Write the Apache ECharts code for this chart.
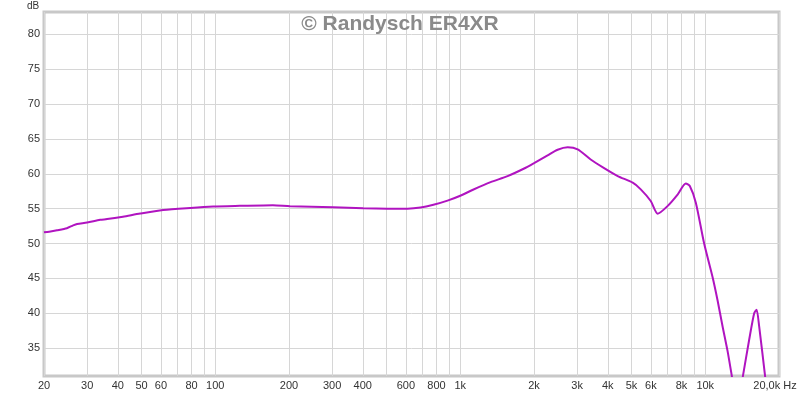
<!DOCTYPE html>
<html>
<head>
<meta charset="utf-8">
<script src="https://cdn.jsdelivr.net/npm/echarts@6/dist/echarts.min.js"></script>
<style>
html,body{margin:0;padding:0;background:#fff;}
#chart{width:800px;height:395px;}
</style>
</head>
<body>
<div id="chart"></div>
<script>
// Frequency response data (Hz, dB)
var frequencies = [20, 21, 22.6, 24.8, 26.3, 27.3, 30, 33.9, 36.2, 42, 49.4, 61.3, 79, 98, 126, 172, 202, 303, 402, 504, 609, 688, 777, 887, 1000, 1133, 1330, 1560, 1814, 1993, 2273, 2497, 2744, 3015, 3407, 3851, 4393, 5058, 5455, 5991, 6399, 7030, 7725, 8330, 8650, 9152, 9898, 10710, 11220, 11770, 12330, 12810, 13500, 14280, 15110, 15840, 16200, 16600, 17520, 18500, 20000];
var levels = [51.6, 51.7, 51.9, 52.2, 52.6, 52.8, 53.0, 53.4, 53.5, 53.85, 54.3, 54.8, 55.1, 55.3, 55.4, 55.5, 55.35, 55.2, 55.05, 55.0, 55.0, 55.15, 55.55, 56.15, 56.85, 57.75, 58.8, 59.66, 60.72, 61.5, 62.65, 63.45, 63.8, 63.5, 62.05, 60.85, 59.67, 58.72, 57.77, 56.1, 54.28, 55.4, 57.05, 58.6, 58.24, 55.86, 50.0, 45.2, 41.9, 38.1, 34.6, 31.2, 26.5, 31.2, 36.2, 40.0, 40.5, 38.1, 31.2, 24, 18];

// Axis ticks
var xGridValues = [20, 30, 40, 50, 60, 70, 80, 90, 100, 200, 300, 400, 500, 600, 700, 800, 900, 1000, 2000, 3000, 4000, 5000, 6000, 7000, 8000, 9000, 10000, 20000];
var xGridLabels = ['20', '30', '40', '50', '60', '', '80', '', '100', '200', '300', '400', '', '600', '', '800', '', '1k', '2k', '3k', '4k', '5k', '6k', '', '8k', '', '10k', '20,0k Hz'];
var yTickValues = [35, 40, 45, 50, 55, 60, 65, 70, 75, 80];
var yMin = 31, yMax = 83.2, xMin = 20, xMax = 20000;

var seriesData = frequencies.map(function (f, i) { return [f, levels[i]]; });

var markData = [];
xGridValues.forEach(function (v, i) {
  var item = { name: xGridLabels[i], xAxis: v };
  if (i === xGridValues.length - 1) {
    item.label = { padding: [0, 8, 0, 0] };
  }
  markData.push(item);
});
yTickValues.forEach(function (v) {
  markData.push({ name: String(v), yAxis: v });
});

var chart = echarts.init(document.getElementById('chart'), null, { renderer: 'canvas' });
chart.setOption({
  animation: false,
  backgroundColor: '#ffffff',
  textStyle: { fontFamily: 'Liberation Sans, Arial, sans-serif' },
  title: {
    text: '\u00A9 Randysch ER4XR',
    left: 'center',
    top: 9,
    textStyle: { color: '#8a8a8a', fontSize: 21, fontWeight: 'bold', fontFamily: 'Liberation Sans, Arial, sans-serif' },
    z: 10
  },
  graphic: [{
    type: 'text', left: 27, top: 1,
    style: { text: 'dB', fontSize: 10, fill: '#333', fontFamily: 'Liberation Sans, Arial, sans-serif' }
  }],
  grid: {
    left: 44, right: 21, top: 12, bottom: 19,
    show: true, borderColor: '#c8c8c8', borderWidth: 3, backgroundColor: '#fff'
  },
  xAxis: {
    type: 'log', logBase: 10, min: xMin, max: xMax,
    axisLine: { show: false }, axisTick: { show: false }, axisLabel: { show: false }, splitLine: { show: false }
  },
  yAxis: {
    type: 'value', min: yMin, max: yMax,
    axisLine: { show: false }, axisTick: { show: false }, axisLabel: { show: false }, splitLine: { show: false }
  },
  series: [{
    type: 'line',
    data: seriesData,
    silent: true,
    showSymbol: false,
    z: 1,
    lineStyle: { opacity: 0, width: 0 },
    markLine: {
      silent: true,
      z: 1,
      symbol: ['none', 'none'],
      animation: false,
      lineStyle: { color: '#d6d6d6', width: 1, type: 'solid' },
      label: {
        show: true, position: 'start', formatter: '{b}', color: '#333', fontSize: 11, distance: 4,
        fontFamily: 'Liberation Sans, Arial, sans-serif'
      },
      emphasis: { disabled: true },
      data: markData
    }
  }, {
    type: 'line',
    data: seriesData,
    z: 3,
    smooth: 0.25,
    showSymbol: false,
    silent: true,
    clip: true,
    lineStyle: { color: '#b014c0', width: 2 }
  }]
});
</script>
</body>
</html>
